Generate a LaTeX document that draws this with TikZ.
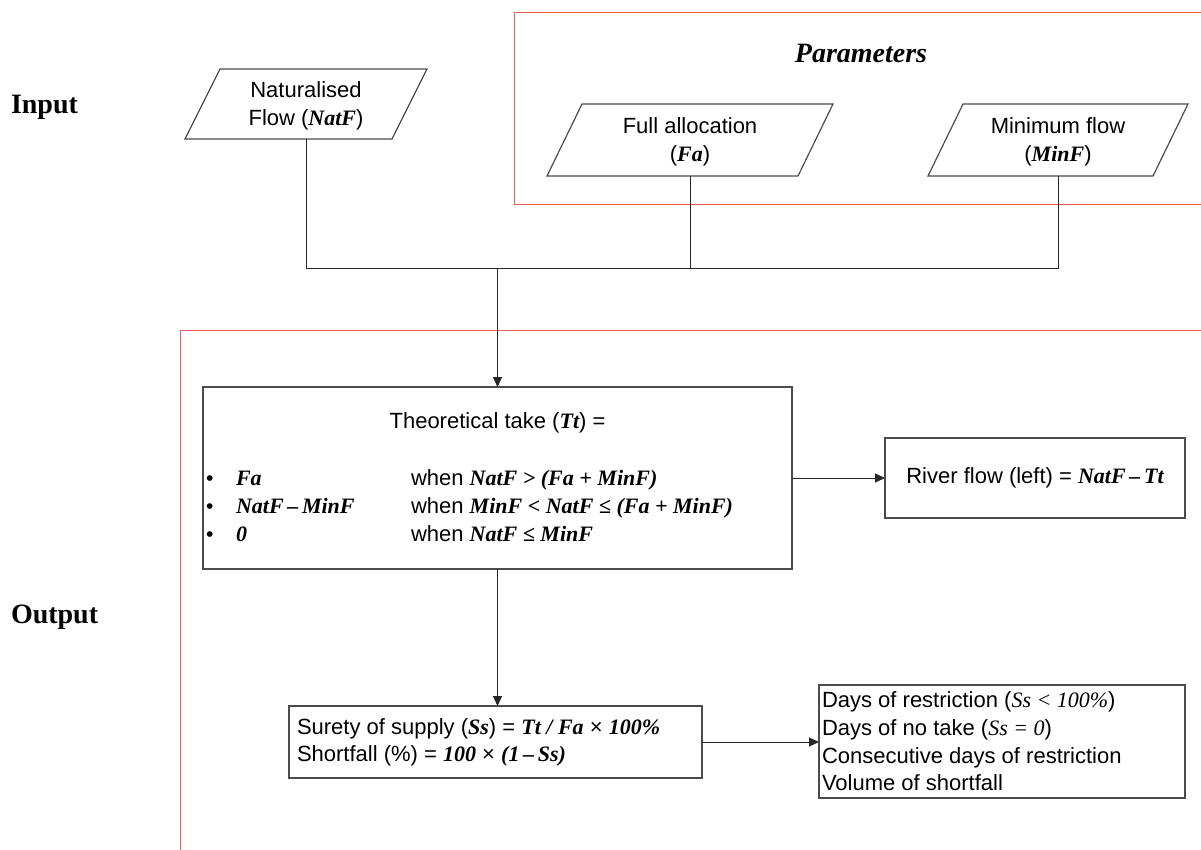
\documentclass[tikz,border=0pt]{standalone}
\usepackage{fontspec}
\setmainfont{Liberation Sans}
\newfontfamily\tnr{Liberation Serif}
\usetikzlibrary{arrows.meta,calc}
\newcommand{\vb}[1]{{\tnr\bfseries\itshape #1}}
\newcommand{\vi}[1]{{\tnr\itshape #1}}
\definecolor{framered}{RGB}{240,90,90}
\begin{document}
\begin{tikzpicture}[x=1pt,y=-1pt,
  every node/.style={font=\fontsize{22}{27}\selectfont, inner sep=0pt, outer sep=0pt},
  line/.style={draw=black!85, line width=1pt},
  arr/.style={line, -{Triangle[length=10pt,width=9pt]}},
  frame/.style={draw=framered, line width=1pt},
  box/.style={draw=black!70, line width=1.2pt},
  heading/.style={font=\tnr\bfseries\fontsize{28}{30}\selectfont},
  para/.style={minimum height=72pt, align=center, font=\fontsize{22}{28}\selectfont},
  txt/.style={anchor=base west},
  bul/.style={anchor=base west, font=\fontsize{21}{24}\selectfont}
]
\useasboundingbox (0,0) rectangle (1201,849);

% red frames
\draw[frame] (1202,12) -- (514,12) -- (514,204) -- (1202,204);
\draw[frame] (180,850) -- (180,330) -- (1202,330);

% headings
\node[heading, anchor=base west] (input) at (11,113) {Input};
\node[heading, anchor=base west] (output) at (11,623) {Output};
\node[heading, font=\tnr\bfseries\itshape\fontsize{28}{30}\selectfont] (params) at (861,53) {Parameters};

% input parallelograms
\node[para, minimum width=242pt, minimum height=70pt] (natf) at (306,104) {};
\node[para, minimum width=286pt] (fa) at (690,140) {};
\node[para, minimum width=260pt] (minf) at (1058,140) {};
\node[para] (natftext) at (306,106) {Naturalised\\Flow (\vb{NatF})};
\node[para] (fatext) at (690,142) {Full allocation\\(\vb{Fa})};
\node[para] (minftext) at (1058,142) {Minimum flow\\(\vb{MinF})};
\foreach \n in {natf,fa,minf}{
  \draw[box] ([xshift=35pt]\n.north west) -- (\n.north east) -- ([xshift=-35pt]\n.south east) -- (\n.south west) -- cycle;
}

% junction
\coordinate (j1) at (497.5,268);
\draw[line] (natf.south) -- (natf.south |- j1) -- (minf.south |- j1) -- (minf.south);
\draw[line] (fa.south) -- (fa.south |- j1);

% theoretical take box
\node[box, minimum width=589pt, minimum height=182pt] (tt) at (497.5,478) {};
\draw[arr] (j1) -- (tt.north);
\node (tttitle) at (497.5,423) {Theoretical take (\vb{Tt}) =};
\node[bul] (b1) at (206,485) {\textbullet};
\node[bul] (b2) at (206,513) {\textbullet};
\node[bul] (b3) at (206,541) {\textbullet};
\node[txt] (c1) at (236,485) {\vb{Fa}};
\node[txt] (c2) at (236,513) {\vb{NatF\,–\,MinF}};
\node[txt] (c3) at (236,541) {\vb{0}};
\node[txt] (w1) at (411,485) {when \vb{NatF > (Fa + MinF)}};
\node[txt] (w2) at (411,513) {when \vb{MinF < NatF ≤ (Fa + MinF)}};
\node[txt] (w3) at (411,541) {when \vb{NatF ≤ MinF}};

% river flow box
\node[box, minimum width=300pt, minimum height=80pt] (river) at (1035,478) {River flow (left) = \vb{NatF\,–\,Tt}};
\draw[arr] (tt.east) -- (river.west);

% surety box
\node[box, minimum width=413pt, minimum height=72pt] (ss) at (495.5,742) {};
\node[anchor=west, align=left] (sstext) at (297,742) {Surety of supply (\vb{Ss}) = \vb{Tt / Fa} × \vb{100\%}\\Shortfall (\%) = \vb{100} × \vb{(1\,–\,Ss)}};
\draw[arr] (tt.south) -- (tt.south |- ss.north);

% days box
\node[box, minimum width=366pt, minimum height=113pt] (days) at (1002,741.5) {};
\node[anchor=west, align=left, font=\fontsize{22}{27.7}\selectfont] (daystext) at (822,741.5) {Days of restriction (\vi{Ss < 100\%})\\Days of no take (\vi{Ss = 0})\\Consecutive days of restriction\\Volume of shortfall};
\draw[arr] (ss.east) -- (ss.east -| days.west);
\end{tikzpicture}
\end{document}
